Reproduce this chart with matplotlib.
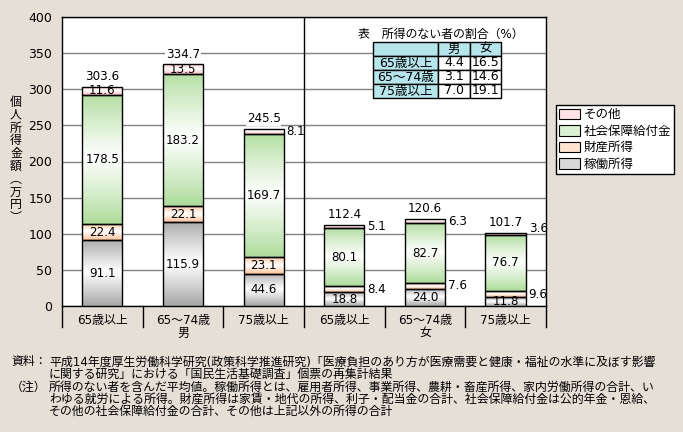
import matplotlib
matplotlib.use('Agg')
import matplotlib.pyplot as plt
import matplotlib.transforms as mtransforms
import numpy as np
from matplotlib.patches import Patch
from matplotlib.colors import to_rgb

plt.rcParams['font.family'] = ['DejaVu Sans', 'Noto Sans CJK JP']

# ---------------- data ----------------
categories = ['65歳以上', '65～74歳', '75歳以上', '65歳以上', '65～74歳', '75歳以上']
groups = ['男', '女']
series_names = ['稼働所得', '財産所得', '社会保障給付金', 'その他']
work_income = [91.1, 115.9, 44.6, 18.8, 24.0, 11.8]
property_income = [22.4, 22.1, 23.1, 8.4, 7.6, 9.6]
social_security = [178.5, 183.2, 169.7, 80.1, 82.7, 76.7]
other_income = [11.6, 13.5, 8.1, 5.1, 6.3, 3.6]
totals = [303.6, 334.7, 245.5, 112.4, 120.6, 101.7]
yticks = [0, 50, 100, 150, 200, 250, 300, 350, 400]

table_title = '表　所得のない者の割合（%）'
table_rows = ['65歳以上', '65～74歳', '75歳以上']
table_cols = ['男', '女']
table_male = [4.4, 3.1, 7.0]
table_female = [16.5, 14.6, 19.1]

ylabel = '個人所得金額︵万円︶'
notes = [
    ('資料：', '平成14年度厚生労働科学研究(政策科学推進研究)「医療負担のあり方が医療需要と健康・福祉の水準に及ぼす影響'),
    ('', 'に関する研究」における「国民生活基礎調査」個票の再集計結果'),
    ('（注）', '所得のない者を含んだ平均値。稼働所得とは、雇用者所得、事業所得、農耕・畜産所得、家内労働所得の合計、い'),
    ('', 'わゆる就労による所得。財産所得は家賃・地代の所得、利子・配当金の合計、社会保障給付金は公的年金・恩給、'),
    ('', 'その他の社会保障給付金の合計、その他は上記以外の所得の合計'),
]

# ---------------- style ----------------
BG = '#E6DFD6'
colors = ['#A8A8A8', '#FFC29A', '#B0DD9E', '#FFC2C6']
TABLE_CYAN = '#B6E5EC'
FS = 8.6
W, H = 683, 432

fig = plt.figure(figsize=(W / 100, H / 100), dpi=100, facecolor=BG)
ax = fig.add_axes([62 / W, 1 - 306 / H, 484 / W, 289 / H])
ax.set_facecolor('white')

x = np.arange(len(categories))
width = 0.5
series = [work_income, property_income, social_security, other_income]


def gradient(color, n=64):
    c = np.array(to_rgb(color))
    t = np.linspace(0, 1, n)
    w = 1 - np.abs(t - 0.52) * 2
    w = np.clip(w, 0, 1) ** 0.9
    img = c[None, :] * (1 - w[:, None]) + w[:, None]
    return img[:, None, :]


bottom = np.zeros(len(categories))
for vals, col in zip(series, colors):
    vals = np.array(vals)
    bars = ax.bar(x, vals, width, bottom=bottom, facecolor='none',
                  edgecolor='black', linewidth=1, zorder=4)
    img = gradient(col)
    for patch in bars.patches:
        bx, by = patch.get_x(), patch.get_y()
        bw, bh = patch.get_width(), patch.get_height()
        im = ax.imshow(img, extent=[bx, bx + bw, by, by + bh], origin='lower',
                       aspect='auto', zorder=3, interpolation='bilinear')
        im.set_clip_path(patch)
    # labels
    for xi, b, v in zip(x, bottom, vals):
        mid = b + v / 2
        if v < 10:
            dy = 3.5 if v < 5 else 0
            ax.annotate(f'{v:.1f}', xy=(xi + width / 2, mid), xytext=(2, dy),
                        textcoords='offset points', ha='left', va='center',
                        fontsize=FS, zorder=6)
        else:
            ax.text(xi, mid, f'{v:.1f}', ha='center', va='center',
                    fontsize=FS, zorder=6)
    bottom = bottom + vals

for xi, t in zip(x, totals):
    ax.annotate(f'{t:.1f}', xy=(xi, t), xytext=(0, 2.5),
                textcoords='offset points', ha='center', va='bottom',
                fontsize=FS, zorder=6,
                bbox=dict(facecolor='white', edgecolor='none', pad=0.6))

ax.set_xlim(-0.5, len(categories) - 0.5)
ax.set_ylim(0, 400)
ax.set_yticks(yticks)
ax.set_yticklabels([str(v) for v in yticks], fontsize=FS + 0.4)
ax.yaxis.grid(True, color='#808080', linewidth=1, zorder=0)
ax.set_axisbelow(True)
ax.tick_params(axis='y', length=0, pad=7)
ax.set_xticks(x)
ax.set_xticklabels(categories, fontsize=FS)
ax.tick_params(axis='x', length=0, pad=5.5)
for s in ax.spines.values():
    s.set_color('black')
    s.set_linewidth(1)
ax.axvline(2.5, color='black', linewidth=1, zorder=5)

trans = mtransforms.blended_transform_factory(ax.transData, ax.transAxes)
for b in np.arange(-0.5, len(categories), 1.0):
    ax.plot([b, b], [0, -0.072], transform=trans, color='black',
            linewidth=1, clip_on=False)
for gi, g in enumerate(groups):
    ax.text(gi * 3 + 1, -0.094, g, transform=trans, ha='center', va='center',
            fontsize=FS)

# table
cell_text = [[''] + table_cols]
for r, m, f in zip(table_rows, table_male, table_female):
    cell_text.append([r, f'{m:.1f}', f'{f:.1f}'])
cell_colours = [[TABLE_CYAN] * 3] + [[TABLE_CYAN, 'white', 'white'] for _ in table_rows]
tbl = ax.table(cellText=cell_text, cellColours=cell_colours, cellLoc='center',
               colWidths=[65, 32, 31],
               bbox=[(373 - 62) / 484, (306 - 98) / 289, 128 / 484, 56 / 289])
tbl.auto_set_font_size(False)
tbl.set_fontsize(FS + 0.4)
tbl.set_zorder(7)
for cell in tbl.get_celld().values():
    cell.set_edgecolor('black')
    cell.set_linewidth(1)
    cell.PAD = 0.02
ax.text((441 - 62) / 484, (306 - 34) / 289, table_title, transform=ax.transAxes,
        ha='center', va='center', fontsize=FS, zorder=7)

# legend
handles = []
for name, col in zip(series_names[::-1], colors[::-1]):
    c = np.array(to_rgb(col))
    handles.append(Patch(facecolor=tuple(c * 0.45 + 0.55), edgecolor='black',
                         linewidth=0.8, label=name))
leg = fig.legend(handles=handles, loc='upper left',
                 bbox_to_anchor=(556 / W, 1 - 105 / H), frameon=True,
                 fancybox=False, edgecolor='black', framealpha=1,
                 borderpad=0.25, handlelength=1.7, handleheight=0.9,
                 handletextpad=0.25, labelspacing=0.28, borderaxespad=0,
                 fontsize=FS + 0.4)
leg.get_frame().set_linewidth(1)

# y label (vertical stacked)
fig.text(16 / W, 1 - 160 / H, '\n'.join(list(ylabel)), ha='center', va='center',
         fontsize=FS, linespacing=0.98)

# notes
ys = [362, 374, 387, 399, 411]
for (head, body), yy in zip(notes, ys):
    if head:
        fig.text(11 / W, 1 - yy / H, head, ha='left', va='center', fontsize=FS)
    fig.text(49 / W, 1 - yy / H, body, ha='left', va='center', fontsize=FS)

fig.savefig('out.png', dpi=100, facecolor=BG)
